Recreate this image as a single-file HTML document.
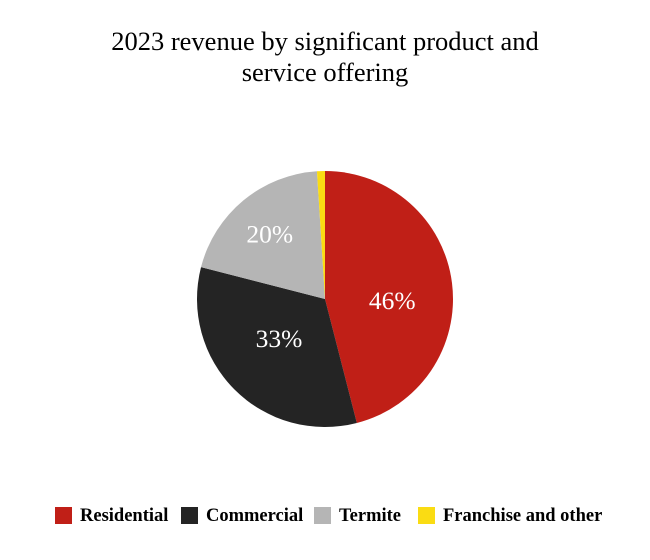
<!DOCTYPE html>
<html><head><meta charset="utf-8"><style>
body{margin:0;background:#fff;}
svg{display:block;font-family:"Liberation Serif",serif;}
</style></head><body>
<svg id="chart" width="650" height="560">
<text x="325" y="50" text-anchor="middle" font-size="26.5">2023 revenue by significant product and</text>
<text x="325" y="81" text-anchor="middle" font-size="26.5">service offering</text>
<g id="slices"></g>
<g id="legend"></g>
</svg>
<script>
const categories=["Residential","Commercial","Termite","Franchise and other"];
const values=[46,33,20,1];
const labels=["46%","33%","20%",""];
const colors=["#c01f17","#242424","#b5b5b5","#fadc13"];
const NS="http://www.w3.org/2000/svg";
const cx=325,cy=299,r=128;
const labelAdj=[[0,9.5],[2,-9],[-12,-13],[0,0]];
const total=values.reduce((a,b)=>a+b,0);
function pt(frac,rad){const a=frac*2*Math.PI;return [cx+rad*Math.sin(a),cy-rad*Math.cos(a)];}
const g=document.getElementById('slices');
let cum=0;
values.forEach((v,i)=>{
  const s=cum/total,e=(cum+v)/total;cum+=v;
  const [x1,y1]=pt(s,r),[x2,y2]=pt(e,r);
  const p=document.createElementNS(NS,'path');
  p.setAttribute('d',`M${cx},${cy}L${x1},${y1}A${r},${r} 0 ${e-s>0.5?1:0} 1 ${x2},${y2}Z`);
  p.setAttribute('fill',colors[i]);
  
  
  g.appendChild(p);
  if(labels[i]){
    const [lx,ly]=pt((s+e)/2,r*0.53);
    const t=document.createElementNS(NS,'text');
    t.setAttribute('x',lx+labelAdj[i][0]);t.setAttribute('y',ly+labelAdj[i][1]+9);
    t.setAttribute('text-anchor','middle');t.setAttribute('font-size','25.5');t.setAttribute('fill','#fff');
    t.textContent=labels[i];
    
    
    g.appendChild(t);
  }
});
const lg=document.getElementById('legend');
const lx=[55,181,314,418];
categories.forEach((c,i)=>{
  const rc=document.createElementNS(NS,'rect');
  rc.setAttribute('x',lx[i]);rc.setAttribute('y',507);rc.setAttribute('width',17);rc.setAttribute('height',17);rc.setAttribute('fill',colors[i]);
  
  
  lg.appendChild(rc);
  const t=document.createElementNS(NS,'text');
  t.setAttribute('x',lx[i]+25);t.setAttribute('y',521);t.setAttribute('font-size','18.5');t.setAttribute('font-weight','bold');
  t.textContent=c;
  
  
  lg.appendChild(t);
});
</script>
</body></html>
